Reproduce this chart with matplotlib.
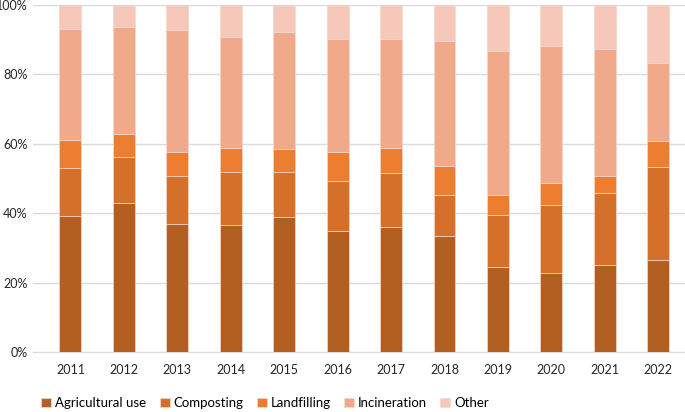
import matplotlib.pyplot as plt
import numpy as np
from matplotlib.ticker import PercentFormatter

plt.rcParams["font.family"] = ["Lato", "DejaVu Sans"]

years = ["2011", "2012", "2013", "2014", "2015", "2016",
         "2017", "2018", "2019", "2020", "2021", "2022"]

# share of each route, in percent
agricultural = [39.2, 43.0, 36.8, 36.7, 38.9, 34.9, 36.1, 33.5, 24.5, 22.8, 25.0, 26.5]
composting = [13.8, 13.2, 13.8, 15.1, 12.9, 14.3, 15.5, 11.8, 15.0, 19.6, 20.9, 26.9]
landfilling = [8.2, 6.6, 7.1, 7.0, 6.7, 8.5, 7.2, 8.3, 5.8, 6.3, 4.9, 7.4]
incineration = [31.9, 30.9, 35.1, 32.0, 33.7, 32.5, 31.3, 36.0, 41.4, 39.4, 36.6, 22.5]
other = [6.9, 6.3, 7.2, 9.2, 7.8, 9.8, 9.9, 10.4, 13.3, 11.9, 12.6, 16.7]

series = [
    ("Agricultural use", agricultural, "#B45F22"),
    ("Composting", composting, "#D4702A"),
    ("Landfilling", landfilling, "#ED7D31"),
    ("Incineration", incineration, "#F1A98B"),
    ("Other", other, "#F5C8BA"),
]

fig = plt.figure(figsize=(6.85, 4.12), dpi=100)
ax = fig.add_axes([33 / 685, 1 - 352 / 412, 652 / 685, 347 / 412])

x = np.arange(len(years))
bottom = np.zeros(len(years))
for name, vals, color in series:
    ax.bar(x, vals, width=0.41, bottom=bottom, color=color, label=name,
           edgecolor="#F3D9CF", linewidth=0.5, zorder=3)
    bottom += np.array(vals)

ax.set_ylim(0, 100)
ax.set_xlim(-0.70, 11.5)
ax.set_yticks(np.arange(0, 101, 20))
ax.yaxis.set_major_formatter(PercentFormatter(decimals=0))
ax.set_xticks(x)
ax.set_xticklabels(years)
ax.grid(axis="y", color="#D9D9D9", linewidth=1, zorder=0)
for s in ["top", "right", "left"]:
    ax.spines[s].set_visible(False)
ax.spines["bottom"].set_color("#D9D9D9")
ax.tick_params(axis="both", length=0, labelsize=9, colors="#262626")
ax.tick_params(axis="x", pad=9)
ax.tick_params(axis="y", pad=4)

fig.legend(*ax.get_legend_handles_labels(), loc="center",
           bbox_to_anchor=(265 / 685, 1 - 403 / 412), ncol=5,
           frameon=False, fontsize=9.5, handlelength=0.75, handleheight=0.75,
           handletextpad=0.3, columnspacing=1.0, borderpad=0)

plt.savefig("out.png", dpi=100, facecolor="white")
